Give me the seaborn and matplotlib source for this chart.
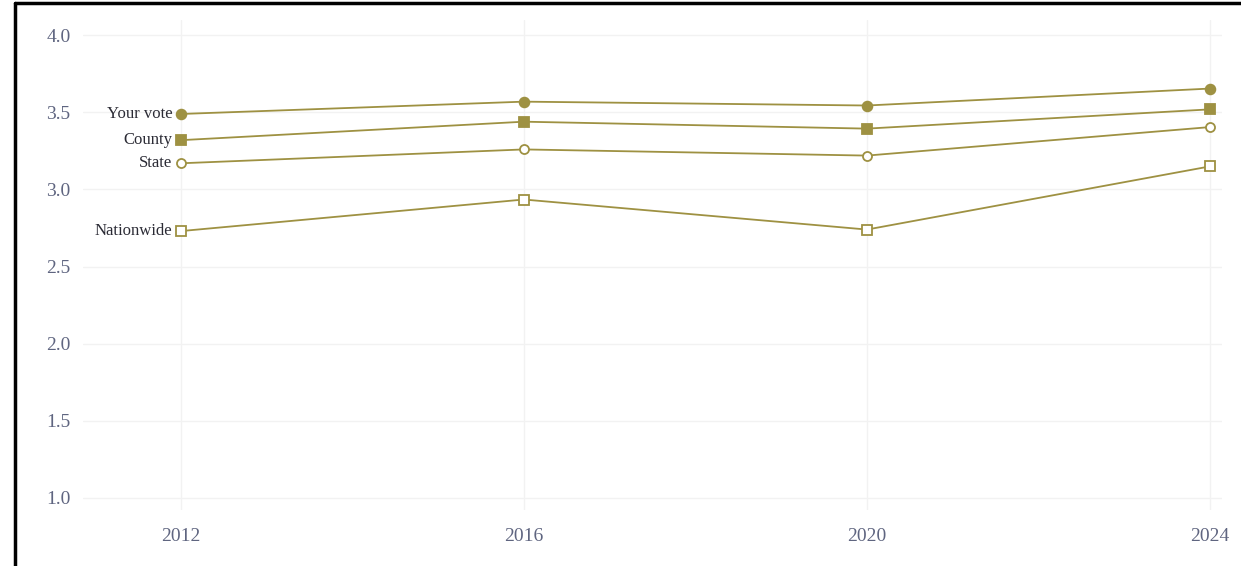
import matplotlib.pyplot as plt
import matplotlib.lines as mlines
import pandas as pd
import seaborn as sns

# values
years = [2012, 2016, 2020, 2024]
your_vote = [3.49, 3.57, 3.545, 3.655]
county = [3.32, 3.44, 3.395, 3.52]
state = [3.17, 3.26, 3.22, 3.405]
nationwide = [2.73, 2.935, 2.74, 3.15]
series_names = ["Your vote", "County", "State", "Nationwide"]
y_ticks = [1.0, 1.5, 2.0, 2.5, 3.0, 3.5, 4.0]

df = pd.DataFrame({
    "year": years * 4,
    "value": your_vote + county + state + nationwide,
    "series": [n for n in series_names for _ in years],
})

sns.set_theme(style="white")
plt.rcParams["font.family"] = ["Liberation Serif", "DejaVu Serif"]

olive = "#9e9142"
styles = {
    "Your vote": dict(marker="o", markerfacecolor=olive, markersize=7),
    "County": dict(marker="s", markerfacecolor=olive, markersize=6.5),
    "State": dict(marker="o", markerfacecolor="white", markersize=6.5),
    "Nationwide": dict(marker="s", markerfacecolor="white", markersize=6.5),
}

fig = plt.figure(figsize=(12.41, 5.66), dpi=100)
ax = fig.add_axes([0.0669, 0.0989, 0.9178, 0.8658])

for name in series_names:
    sub = df[df.series == name]
    sns.lineplot(data=sub, x="year", y="value", ax=ax, color=olive,
                 linewidth=1.3, markeredgecolor=olive, markeredgewidth=1.3,
                 legend=False, **styles[name])
    first = sub.iloc[0]
    ax.annotate(name, (first.year, first.value), xytext=(-6, 0),
                textcoords="offset points", ha="right", va="center",
                fontsize=12, color="#2b2b35")

ax.set_xlim(2010.86, 2024.14)
ax.set_ylim(0.92, 4.1)
ax.set_xticks(years)
ax.set_yticks(y_ticks)
ax.set_yticklabels([f"{t:.1f}" for t in y_ticks])
ax.set_xlabel("")
ax.set_ylabel("")
ax.tick_params(axis="both", length=0, labelsize=14, labelcolor="#5f6580")
ax.tick_params(axis="y", pad=9)
ax.tick_params(axis="x", pad=13)
ax.grid(True, color="#f2f2f2", linewidth=1)
for s in ax.spines.values():
    s.set_visible(False)

# black frame on top and left edges as in the screenshot
fig.add_artist(mlines.Line2D([0.0121, 1], [0.9955, 0.9955], color="black", linewidth=2.5, transform=fig.transFigure))
fig.add_artist(mlines.Line2D([0.0121, 0.0121], [0, 0.9955], color="black", linewidth=2.5, transform=fig.transFigure))

fig.savefig("out.png", dpi=100)
